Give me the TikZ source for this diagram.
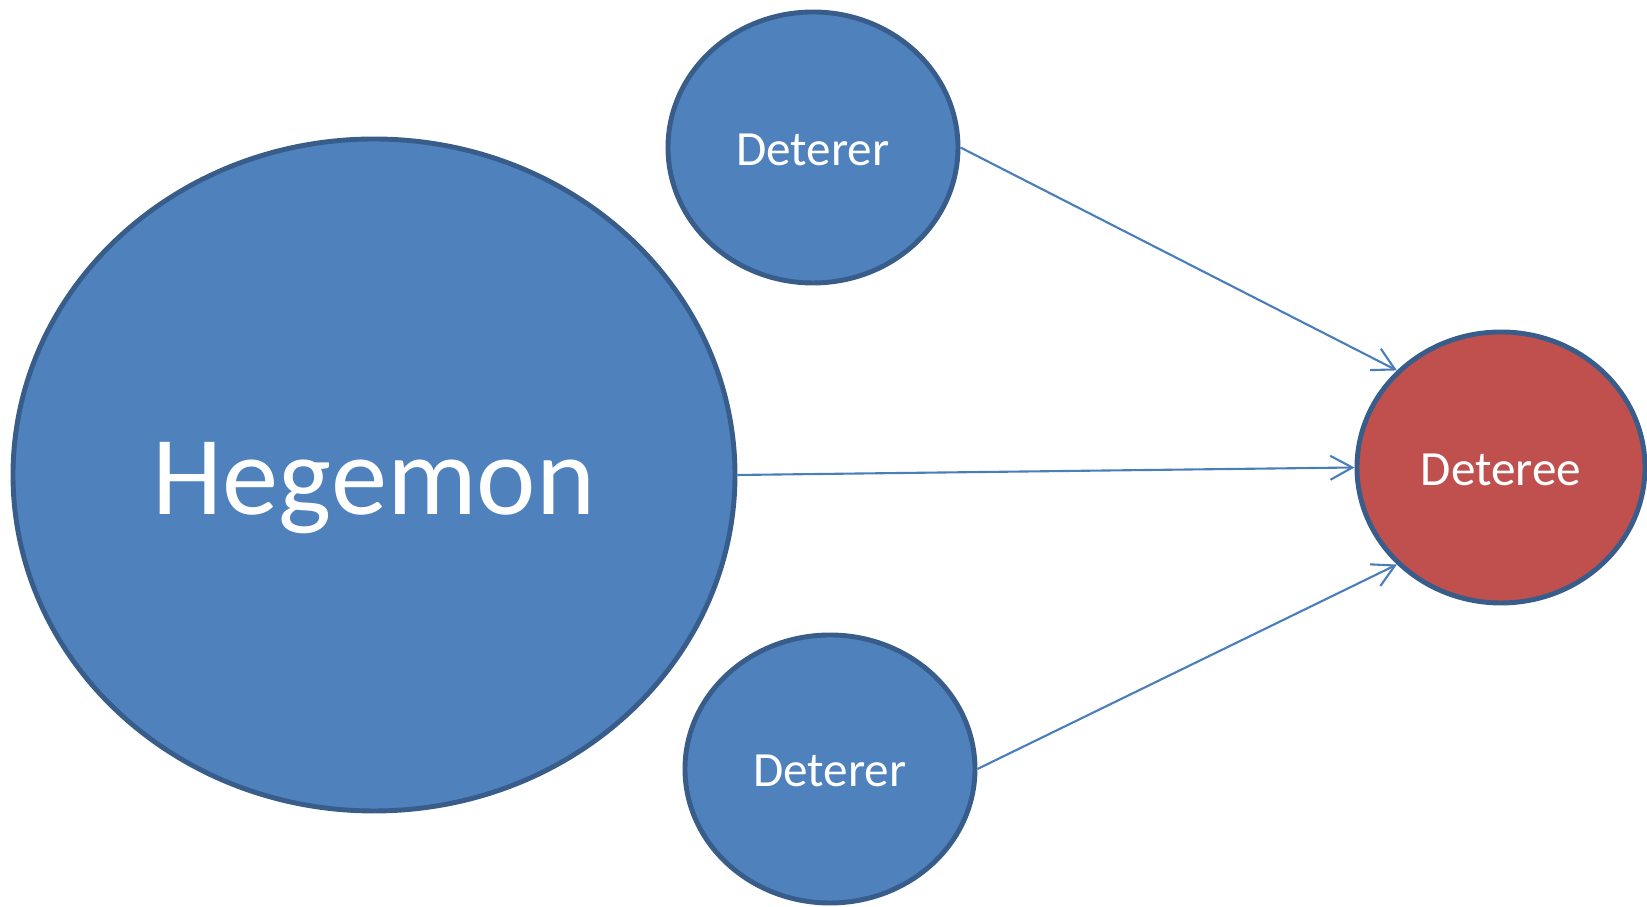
\documentclass[tikz,border=0pt]{standalone}
\usepackage{fontspec}
\setmainfont{Carlito}
\usetikzlibrary{shapes.geometric,arrows.meta}
\definecolor{statefill}{HTML}{4F81BD}
\definecolor{stateline}{HTML}{385D8A}
\definecolor{targetfill}{HTML}{C0504D}
\definecolor{arrowline}{HTML}{4A7EBB}
\tikzset{
  state/.style={ellipse,draw=stateline,line width=1.4pt,fill=statefill,
    text=white,inner sep=0pt,text height=0.36cm,text depth=0pt,
    font=\fontsize{14}{17}\selectfont},
  deter/.style={-{Straight Barb[length=2.2mm,width=2.4mm]},draw=arrowline,line width=0.6pt}
}
\begin{document}
\begin{tikzpicture}
  \useasboundingbox (0,0) rectangle (16.47,9.07);
  \node[state,minimum width=7.22cm,minimum height=6.72cm,text height=0.8cm,
    font=\fontsize{32}{38}\selectfont] (heg) at (3.74,4.32) {Hegemon};
  \node[state,minimum width=2.90cm,minimum height=2.71cm] (top) at (8.13,7.595) {Deterer};
  \node[state,minimum width=2.90cm,minimum height=2.68cm] (bot) at (8.30,1.38) {Deterer};
  \node[state,fill=targetfill,minimum width=2.88cm,minimum height=2.71cm] (tgt) at (15.01,4.395) {Deteree};
  \draw[deter] (top.east) -- (tgt.137);
  \draw[deter] (heg.east) -- (tgt.west);
  \draw[deter] (bot.east) -- (tgt.223);
\end{tikzpicture}
\end{document}
